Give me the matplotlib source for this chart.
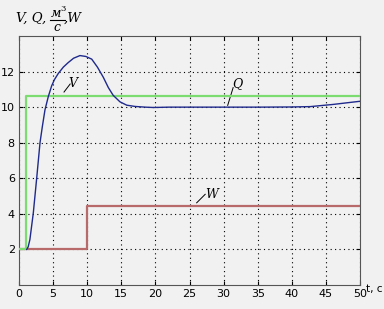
import numpy as np
import matplotlib
matplotlib.use("Agg")
from matplotlib import pyplot
from matplotlib.lines import Line2D

# Q setpoint (green)
q_t = [0, 1.0, 1.0, 50]
q_y = [2, 2, 10.6, 10.6]
# W (red)
w_t = [0, 10.0, 10.0, 50]
w_y = [2, 2, 4.43, 4.43]
# V response (blue)
v_t = [1.13, 1.35, 1.6, 2.1, 2.6, 3.08, 3.42, 3.81, 4.3, 4.79, 5.2, 5.77, 6.5, 7.2, 8.0, 8.94, 9.8,
       10.66, 11.5, 12.36, 13.1, 13.8, 14.8, 15.8, 17.0, 18.5, 19.7, 22, 26, 30, 35, 40, 42.7, 46, 50]
v_y = [2.0, 2.15, 2.56, 4.06, 6.03, 8.0, 8.9, 9.85, 10.6, 11.2, 11.55, 11.9, 12.25, 12.5, 12.75, 12.9, 12.85,
       12.7, 12.25, 11.68, 11.1, 10.67, 10.3, 10.11, 10.04, 10.0, 9.98, 10.0, 10.0, 10.0, 10.0, 10.01, 10.03, 10.15, 10.33]

BG = "#f1f1f1"
W, H = 384, 309

figure, axis = pyplot.subplots(figsize=(W / 100, H / 100), dpi=100)
figure.patch.set_facecolor(BG)
axis.set_facecolor(BG)
figure.subplots_adjust(left=19 / W, right=360 / W, bottom=1 - 285 / H, top=1 - 36 / H)

axis.plot(w_t, w_y, color="#b86a6a", linewidth=1.6, zorder=3)
axis.plot(q_t, q_y, color="#7ddc6f", linewidth=1.6, zorder=3)
axis.plot(v_t, v_y, color="#1f2a8c", linewidth=1.0, zorder=4)

axis.set_xlim(0, 50)
axis.set_ylim(0, 14)
axis.set_xticks(np.arange(0, 51, 5))
axis.set_yticks([2, 4, 6, 8, 10, 12])
axis.tick_params(direction="in", top=True, right=True, labelsize=8, length=3, pad=3)
axis.grid(True, linestyle=(0, (1, 3)), color="black", linewidth=0.8)
for spine in axis.spines.values():
    spine.set_color("#555555")

# curve labels with leader lines
label_style = dict(fontsize=9, style="italic", family="DejaVu Serif")
axis.plot([6.6, 7.5], [10.85, 11.3], color="black", linewidth=0.7)
axis.text(7.3, 11.15, "V", **label_style)
axis.plot([30.6, 31.4], [10.1, 11.1], color="black", linewidth=0.7)
axis.text(31.3, 11.15, "Q", **label_style)
axis.plot([26.05, 27.3], [4.62, 5.1], color="black", linewidth=0.7)
axis.text(27.3, 4.9, "W", **label_style)


def fig_xy(px, py):
    return px / W, 1 - py / H


# y-axis label: V, Q, м³/с, W
title_style = dict(fontsize=9.5, style="italic", family="DejaVu Serif")
figure.text(*fig_xy(16, 22), "V, Q,", **title_style)
figure.text(*fig_xy(51, 17), "м", fontsize=9, style="italic", family="DejaVu Serif")
figure.text(*fig_xy(60, 11), "3", fontsize=6, family="DejaVu Serif")
figure.add_artist(Line2D([50 / W, 65 / W], [1 - 20 / H, 1 - 20 / H], color="black", linewidth=0.8))
figure.text(*fig_xy(53, 31), "с", fontsize=9, style="italic", family="DejaVu Serif")
figure.text(*fig_xy(64, 22), ",W", **title_style)
figure.text(*fig_xy(366, 292), "t, c", fontsize=7.5)

figure.savefig("out.png", dpi=100, facecolor=BG)
